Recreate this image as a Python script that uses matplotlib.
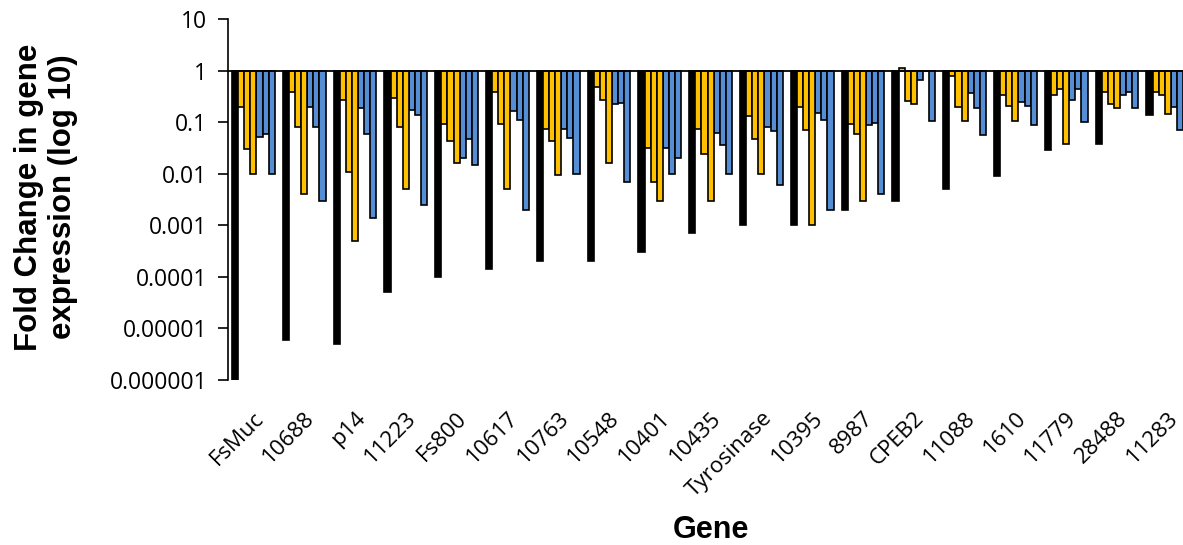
import numpy as np
import matplotlib.pyplot as plt

genes = ["FsMuc", "10688", "p14", "11223", "Fs800", "10617", "10763", "10548",
         "10401", "10435", "Tyrosinase", "10395", "8987", "CPEB2", "11088",
         "1610", "11779", "28488", "11283"]

# one black reference bar per gene
black = [1e-6, 6e-6, 5e-6, 5.1e-5, 1e-4, 1.45e-4, 2e-4, 2e-4, 3e-4, 7e-4,
         1e-3, 1e-3, 2e-3, 3e-3, 5e-3, 9e-3, 0.029, 0.038, 0.137]

# three yellow bars per gene
yellow = [
    [0.2, 0.03, 0.01],
    [0.38, 0.08, 0.004],
    [0.27, 0.011, 0.0005],
    [0.29, 0.08, 0.005],
    [0.093, 0.044, 0.016],
    [0.38, 0.093, 0.005],
    [0.073, 0.043, 0.0093],
    [0.48, 0.27, 0.016],
    [0.031, 0.007, 0.003],
    [0.073, 0.024, 0.003],
    [0.134, 0.048, 0.01],
    [0.195, 0.07, 0.001],
    [0.093, 0.058, 0.003],
    [1.12, 0.26, 0.22],
    [0.78, 0.195, 0.107],
    [0.33, 0.21, 0.107],
    [0.34, 0.43, 0.038],
    [0.39, 0.22, 0.19],
    [0.39, 0.33, 0.144],
]

# three blue bars per gene (last one is cut off by the image edge)
blue = [
    [0.051, 0.06, 0.01],
    [0.195, 0.08, 0.003],
    [0.19, 0.06, 0.0014],
    [0.17, 0.14, 0.0025],
    [0.02, 0.047, 0.015],
    [0.166, 0.11, 0.002],
    [0.073, 0.05, 0.01],
    [0.22, 0.24, 0.007],
    [0.031, 0.01, 0.02],
    [0.061, 0.036, 0.01],
    [0.08, 0.067, 0.006],
    [0.15, 0.11, 0.002],
    [0.09, 0.097, 0.004],
    [0.67, 1.0, 0.107],
    [0.37, 0.19, 0.057],
    [0.25, 0.21, 0.087],
    [0.27, 0.43, 0.1],
    [0.34, 0.39, 0.19],
    [0.2, 0.071, np.nan],
]

yticks = [1e-6, 1e-5, 1e-4, 1e-3, 1e-2, 1e-1, 1, 10]
ytick_labels = ["0.000001", "0.00001", "0.0001", "0.001", "0.01", "0.1", "1", "10"]

plt.rcParams['font.family'] = ['Open Sans', 'DejaVu Sans']

fig = plt.figure(figsize=(11.83, 5.45), dpi=100)
ax = fig.add_axes([228 / 1183, 165 / 545, 1 - 228 / 1183, 361 / 545])

w = 0.12
x = np.arange(len(genes))

def draw(vals, offset, color, edge):
    vals = np.asarray(vals, dtype=float)
    ok = ~np.isnan(vals)
    ax.bar(x[ok] + offset * w, vals[ok] - 1, bottom=1, width=w,
           color=color, edgecolor=edge, linewidth=1.2, zorder=2)

draw(black, -3, "black", "black")
yellow = np.array(yellow)
blue = np.array(blue)
for j in range(3):
    draw(yellow[:, j], -2 + j, "#FFC000", "black")
    draw(blue[:, j], 1 + j, "#558ED5", "black")

ax.set_yscale("log")
ax.set_ylim(1e-6, 10)
ax.set_xlim(-0.5, 18.3)
ax.set_yticks(yticks)
ax.set_yticklabels(ytick_labels, fontsize=16.5)
ax.yaxis.set_minor_locator(plt.NullLocator())
ax.tick_params(axis="y", direction="out", length=7, width=1.2, pad=8)

ax.set_xticks(x)
ax.set_xticklabels(genes, fontsize=16, rotation=45, ha="right",
                   rotation_mode="anchor")
ax.tick_params(axis="x", length=0, pad=20)

for s in ["top", "right", "bottom"]:
    ax.spines[s].set_visible(False)
ax.spines["left"].set_linewidth(1.2)
ax.axhline(1, color="black", linewidth=1.3, zorder=3)

fig.text(46 / 1183, 1 - 197 / 545, "Fold Change in gene\nexpression (log 10)",
         rotation=90, ha="center", va="center", multialignment="center",
         fontsize=22.5, fontweight="bold", family="Liberation Sans",
         linespacing=1.2)
fig.text(711 / 1183, 1 - 530 / 545, "Gene", ha="center", va="center",
         fontsize=22, fontweight="bold", family="Liberation Sans")

fig.savefig("out.png", dpi=100)
